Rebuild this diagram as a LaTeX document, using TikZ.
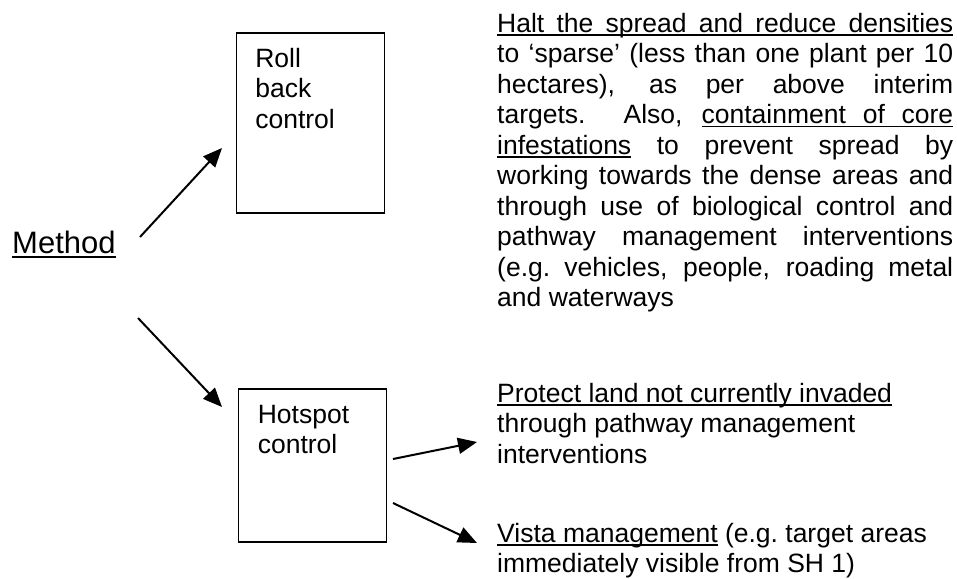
\documentclass[tikz,border=0pt]{standalone}
\usepackage{fontspec}
\setmainfont{Liberation Sans}
\usepackage{xcolor}
\usepackage{tikz}
\usetikzlibrary{arrows.meta,positioning}
\definecolor{InkBlack}  {HTML}{000000}
\definecolor{PageWhite} {HTML}{FFFFFF}
% underline that runs through stretched word spaces
\newdimen\uldepth \uldepth=3.5pt
\newdimen\ulthick \ulthick=1.5pt
\newcommand{\ulw}[1]{\setbox0\hbox{#1}\rlap{\rule[-\uldepth]{\wd0}{\ulthick}}\box0\relax}
\newcommand{\uls}{\leaders\hrule height \dimexpr\ulthick-\uldepth\relax depth \uldepth
  \hskip\fontdimen2\font plus\fontdimen3\font minus\fontdimen4\font\relax}
\makeatletter
\def\ulphrase#1{\ulph@a#1 \@nil}
\def\ulph@a#1 #2\@nil{\ulw{#1}\ifx\relax#2\relax\else\uls\ulph@a#2\@nil\fi}
\makeatother

\begin{document}
\begin{tikzpicture}[x=1pt,y=-1pt,
    bodytext/.style={font=\fontsize{26.5}{30.5}\selectfont,text=InkBlack,inner sep=0pt},
    ctrlbox/.style={draw=InkBlack,line width=1.8pt,minimum width=148pt,inner sep=0pt},
    pointer/.style={draw=InkBlack,line width=2pt,-{Triangle[length=19pt,width=16pt]}}]
    \fill[PageWhite] (0,0) rectangle (957,576);

    % left label
    \node[bodytext,font=\fontsize{31}{36}\selectfont,anchor=base west] (method) at (12,253)
      {\uldepth=5pt\ulthick=2.2pt\ulphrase{Method}};

    % the two control boxes
    \node[ctrlbox,minimum height=180pt] (rollbox) at (310.5,123) {};
    \node[ctrlbox,minimum height=153pt] (hotbox) at (312.5,465.5) {};
    \node[bodytext,align=left,below right=15.5pt and 19.5pt of rollbox.north west] (rolltext)
      {Roll\\back\\control};
    \node[bodytext,align=left,below right=16.6pt and 20pt of hotbox.north west] (hottext)
      {Hotspot\\control};

    % notes on the right
    \node[bodytext,text width=456pt,align=justify,anchor=north west] (rollnote) at (497,12.6) {%
      \ulphrase{Halt the spread and reduce densities}\linebreak
      to ‘sparse’ (less than one plant per 10\linebreak
      hectares), as per above interim\linebreak
      targets.  Also, \ulphrase{containment of core}\linebreak
      \ulphrase{infestations} to prevent spread by\linebreak
      working towards the dense areas and\linebreak
      through use of biological control and\linebreak
      pathway management interventions\linebreak
      (e.g.\ vehicles, people, roading metal\linebreak
      and waterways};
    \node[bodytext,align=left,anchor=north west] (protectnote) at (497,382.6)
      {\ulphrase{Protect land not currently invaded}\\through pathway management\\interventions};
    \node[bodytext,align=left,anchor=north west] (vistanote) at (497,522.6)
      {\ulphrase{Vista management} (e.g.\ target areas\\immediately visible from SH 1)};

    % arrow ends
    \coordinate (m1) at (140,237);
    \coordinate (r1) at (222,148);
    \coordinate (m2) at (138,318);
    \coordinate (h2) at (222,407);
    \coordinate (h3) at (393,459);
    \coordinate (p3) at (477,442);
    \coordinate (h4) at (393,503);
    \coordinate (v4) at (477,543);

    \draw[pointer] (m1) -- (r1);
    \draw[pointer] (m2) -- (h2);
    \draw[pointer] (h3) -- (p3);
    \draw[pointer] (h4) -- (v4);
\end{tikzpicture}
\end{document}
